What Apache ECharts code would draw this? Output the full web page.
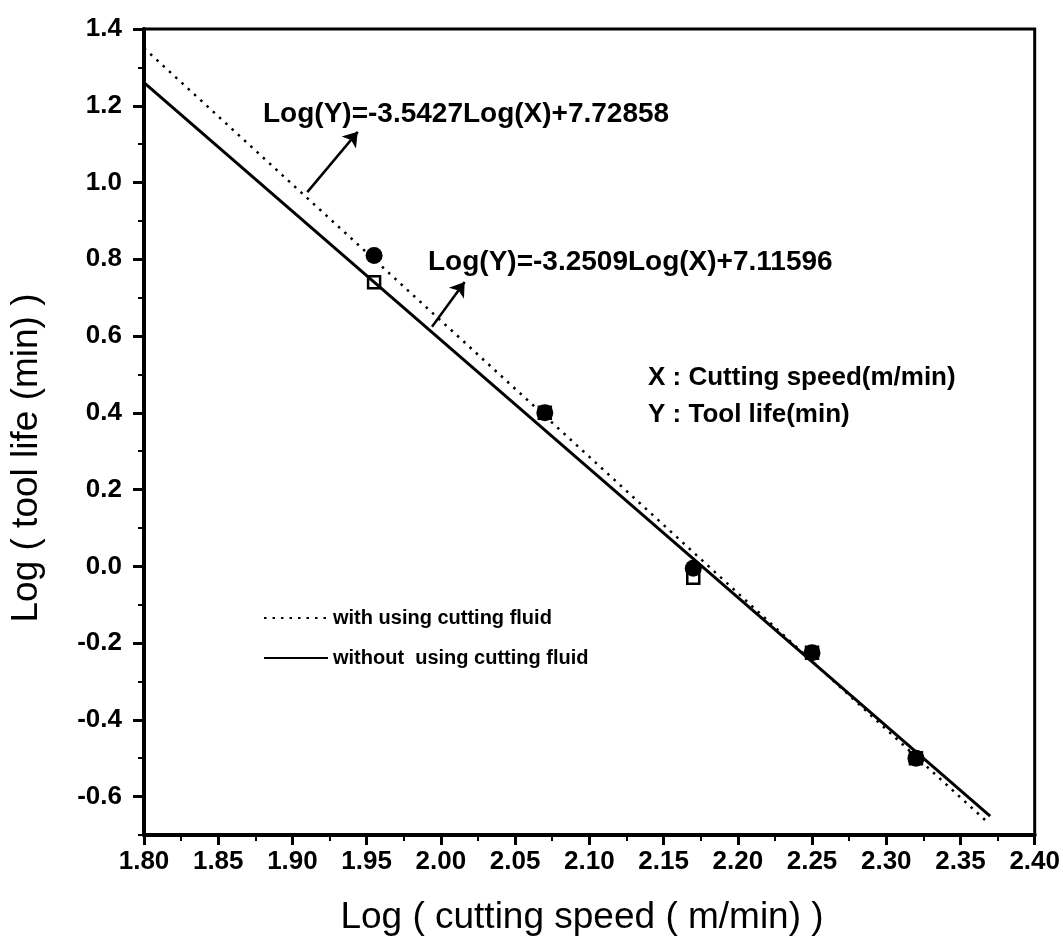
<!DOCTYPE html>
<html>
<head>
<meta charset="utf-8">
<script src="https://cdn.jsdelivr.net/npm/echarts@6/dist/echarts.min.js"></script>
<style>
  html, body { margin: 0; padding: 0; background: #fff; }
  #chart { width: 1063px; height: 947px; }
</style>
</head>
<body>
<div id="chart"></div>
<script>
// log cutting speed of the test points
const speedLog = [1.955, 2.07, 2.17, 2.25, 2.32];
// filled circles (with cutting fluid)
const lifeWithFluid = [0.81, 0.40, -0.005, -0.225, -0.50];
// open squares (without cutting fluid)
const lifeWithoutFluid = [0.74, 0.40, -0.03, -0.225, -0.50];

// fitted lines, end points
const fitWithFluidX = [1.80, 2.368];
const fitWithFluidY = [1.35, -0.666];
const fitWithoutFluidX = [1.80, 2.370];
const fitWithoutFluidY = [1.26, -0.651];

const yLabelValues = [-0.6, -0.4, -0.2, 0.0, 0.2, 0.4, 0.6, 0.8, 1.0, 1.2, 1.4];

const nameWith = 'with using cutting fluid';
const nameWithout = 'without  using cutting fluid';

// arrows from each fitted line to its equation
const arrowWith = [[1.910, 0.975], [1.944, 1.132]];
const arrowWithout = [[1.994, 0.624], [2.016, 0.741]];

const FONT = "'Liberation Sans', Arial, sans-serif";

const zip = (xs, ys) => xs.map((x, i) => [x, ys[i]]);

const chart = echarts.init(document.getElementById('chart'));

chart.setOption({
  animation: false,
  backgroundColor: '#fff',
  grid: {
    left: 144, right: 27, top: 29, bottom: 112,
    show: true, borderColor: '#000', borderWidth: 3
  },
  legend: {
    orient: 'vertical',
    left: 258, top: 602,
    itemWidth: 64, itemHeight: 14, itemGap: 18,
    data: [nameWith, nameWithout],
    itemStyle: { opacity: 0 },
    textStyle: { fontFamily: FONT, fontSize: 20, fontWeight: 'bold', color: '#000', lineHeight: 22 }
  },
  xAxis: {
    type: 'value',
    min: 1.80, max: 2.40, interval: 0.05,
    axisLine: { onZero: false, lineStyle: { color: '#000', width: 4 } },
    axisTick: { inside: false, length: 10, lineStyle: { color: '#000', width: 3 } },
    minorTick: { show: true, splitNumber: 2, length: 6, lineStyle: { color: '#000', width: 2 } },
    splitLine: { show: false },
    axisLabel: {
      margin: 14, color: '#000', fontFamily: FONT, fontSize: 26, fontWeight: 'bold',
      formatter: v => v.toFixed(2)
    }
  },
  yAxis: [{
    type: 'value',
    min: -0.7, max: 1.4, interval: 0.1,
    axisLine: { onZero: false, lineStyle: { color: '#000', width: 4 } },
    axisTick: { inside: false, length: 6, lineStyle: { color: '#000', width: 2 } },
    splitLine: { show: false },
    axisLabel: { show: false }
  }, {
    type: 'value',
    position: 'left',
    min: -0.7, max: 1.4,
    axisLine: { show: false },
    splitLine: { show: false },
    axisTick: { inside: false, length: 11, customValues: yLabelValues, lineStyle: { color: '#000', width: 3 } },
    axisLabel: {
      customValues: yLabelValues,
      margin: 22, color: '#000', fontFamily: FONT, fontSize: 26, fontWeight: 'bold',
      formatter: v => v.toFixed(1)
    }
  }],
  series: [{
    name: nameWith,
    type: 'line',
    data: zip(fitWithFluidX, fitWithFluidY),
    symbol: 'none',
    itemStyle: { color: '#000' },
    lineStyle: { color: '#000', width: 2.5, type: [2.5, 6] },
    markLine: {
      silent: true,
      symbol: ['none', 'arrow'],
      symbolSize: 14,
      label: { show: false },
      lineStyle: { color: '#000', width: 2.5, type: 'solid' },
      data: [
        [{ coord: arrowWith[0] }, { coord: arrowWith[1] }],
        [{ coord: arrowWithout[0] }, { coord: arrowWithout[1] }]
      ]
    }
  }, {
    name: nameWithout,
    type: 'line',
    data: zip(fitWithoutFluidX, fitWithoutFluidY),
    symbol: 'none',
    itemStyle: { color: '#000' },
    lineStyle: { color: '#000', width: 3 }
  }, {
    type: 'scatter',
    data: zip(speedLog, lifeWithoutFluid),
    symbol: 'rect',
    symbolSize: 12,
    itemStyle: { color: '#fff', borderColor: '#000', borderWidth: 2.5, opacity: 1 }
  }, {
    type: 'scatter',
    data: zip(speedLog, lifeWithFluid),
    symbol: 'circle',
    symbolSize: 17,
    itemStyle: { color: '#000', opacity: 1 }
  }],
  graphic: [{
    type: 'text', x: 263, y: 114,
    style: { text: 'Log(Y)=-3.5427Log(X)+7.72858', font: "bold 28px " + FONT, fill: '#000', textVerticalAlign: 'middle' }
  }, {
    type: 'text', x: 428, y: 262,
    style: { text: 'Log(Y)=-3.2509Log(X)+7.11596', font: "bold 28px " + FONT, fill: '#000', textVerticalAlign: 'middle' }
  }, {
    type: 'text', x: 648, y: 378,
    style: { text: 'X : Cutting speed(m/min)', font: "bold 26px " + FONT, fill: '#000', textVerticalAlign: 'middle' }
  }, {
    type: 'text', x: 648, y: 415,
    style: { text: 'Y : Tool life(min)', font: "bold 26px " + FONT, fill: '#000', textVerticalAlign: 'middle' }
  }, {
    type: 'text', x: 582, y: 918,
    style: { text: 'Log ( cutting speed ( m/min) )', font: "37px " + FONT, fill: '#000', textAlign: 'center', textVerticalAlign: 'middle' }
  }, {
    type: 'text', x: 27, y: 458, rotation: Math.PI / 2,
    style: { text: 'Log ( tool life (min) )', font: "37px " + FONT, fill: '#000', textAlign: 'center', textVerticalAlign: 'middle' }
  }]
});

window.onresize = () => chart.resize();
</script>
</body>
</html>
